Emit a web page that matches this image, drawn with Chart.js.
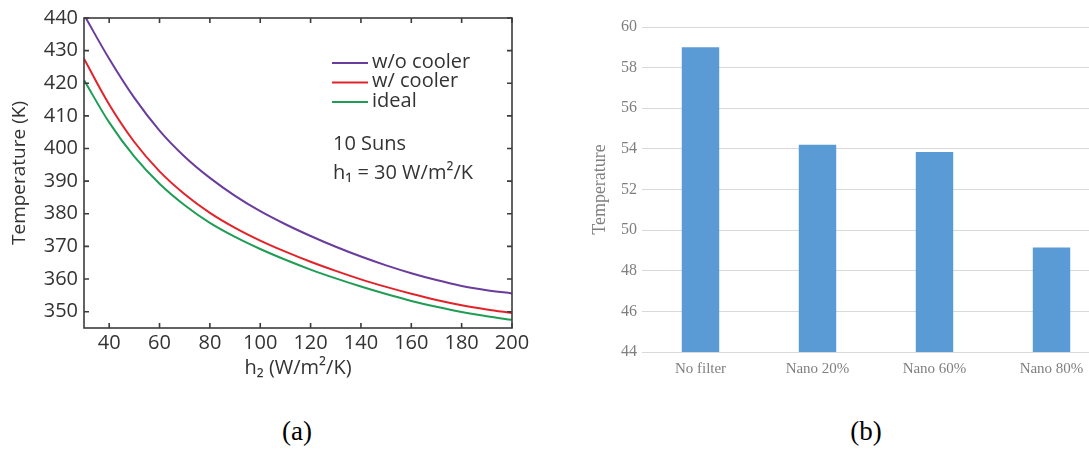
<!DOCTYPE html>
<html lang="en">

<head>
  <meta charset="UTF-8">
  <title>Temperature comparison</title>
  <script src="https://cdn.jsdelivr.net/npm/chart.js"></script>
  <style>
    html, body { margin: 0; padding: 0; background: #fff; }
    .page { position: relative; width: 1089px; height: 452px; overflow: hidden; }
    #chartA { position: absolute; left: 0; top: 0; }
    #chartB { position: absolute; left: 560px; top: 0; }
    .caption {
      position: absolute; top: 416px; width: 80px; margin-left: -40px;
      text-align: center; font-family: "Liberation Serif", serif; font-size: 27px; color: #000;
    }
  </style>
</head>

<body>
  <div class="page">
    <canvas id="chartA" width="560" height="395"></canvas>
    <canvas id="chartB" width="560" height="395"></canvas>
    <div class="caption" style="left: 297px;">(a)</div>
    <div class="caption" style="left: 866px;">(b)</div>
  </div>

  <script>
    // (a) device temperature vs. h2
    const h2Values = [30, 40, 50, 60, 70, 80, 90, 100, 110, 120, 130, 140, 150, 160, 170, 180, 190, 200];
    const tempNoCooler = [441, 427.5, 415.5, 405.5, 397.5, 391, 385.5, 380.8, 376.8, 373.2, 369.9, 366.9, 364.2, 361.8, 359.7, 357.9, 356.6, 355.6];
    const tempCooler = [427.5, 413.5, 402, 393, 386, 380.3, 375.7, 371.8, 368.4, 365.3, 362.5, 359.9, 357.6, 355.5, 353.6, 352, 350.7, 349.6];
    const tempIdeal = [421, 408, 397.5, 389.2, 382.6, 377.2, 372.9, 369.2, 365.9, 362.9, 360.2, 357.7, 355.4, 353.3, 351.5, 349.9, 348.6, 347.5];
    const seriesNames = ['w/o cooler', 'w/ cooler', 'ideal'];
    const seriesColors = ['#6a3c9c', '#e2232a', '#1f9d55'];
    const xTicksA = { min: 30, max: 200, step: 20 };
    const yTicksA = { min: 345, max: 440, step: 10 };
    const notes = ['10 Suns', 'h\u2081 = 30 W/m\u00b2/K'];

    // (b) temperature per filter
    const filterNames = ['No filter', 'Nano 20%', 'Nano 60%', 'Nano 80%'];
    const filterTemps = [59.0, 54.2, 53.85, 49.15];
    const yTicksB = { min: 44, max: 60, step: 2 };

    const sansFont = '"Open Sans", sans-serif';
    const serifFont = '"Liberation Serif", "Times New Roman", serif';

    const toPoints = ys => ys.map((y, i) => ({ x: h2Values[i], y: y }));

    // box frame with inward ticks, inline legend and notes
    const frameAndLegend = {
      id: 'frameAndLegend',
      afterDatasetsDraw(chart) {
        const { ctx, chartArea: a, scales: { x, y } } = chart;
        ctx.save();
        ctx.strokeStyle = '#3c3c3c';
        ctx.lineWidth = 1.6;
        ctx.strokeRect(a.left, a.top, a.right - a.left, a.bottom - a.top);
        ctx.beginPath();
        x.ticks.forEach(t => {
          const px = x.getPixelForValue(t.value);
          ctx.moveTo(px, a.bottom); ctx.lineTo(px, a.bottom - 5);
          ctx.moveTo(px, a.top); ctx.lineTo(px, a.top + 5);
        });
        y.ticks.forEach(t => {
          const py = y.getPixelForValue(t.value);
          ctx.moveTo(a.left, py); ctx.lineTo(a.left + 5, py);
          ctx.moveTo(a.right, py); ctx.lineTo(a.right - 5, py);
        });
        ctx.stroke();

        ctx.font = '20px ' + sansFont;
        ctx.fillStyle = '#333';
        ctx.textBaseline = 'middle';
        ctx.textAlign = 'left';
        const lx = a.left + 248;
        chart.data.datasets.forEach((ds, i) => {
          const ly = a.top + 45 + i * 19.5;
          ctx.strokeStyle = ds.borderColor;
          ctx.lineWidth = 2;
          ctx.beginPath();
          ctx.moveTo(lx, ly); ctx.lineTo(lx + 36, ly);
          ctx.stroke();
          ctx.fillText(ds.label, lx + 40, ly - 1);
        });
        notes.forEach((txt, i) => {
          ctx.fillText(txt, lx + 1, a.top + 126 + i * 29);
        });
        ctx.restore();
      }
    };

    new Chart(document.getElementById('chartA').getContext('2d'), {
      type: 'line',
      data: {
        datasets: [tempNoCooler, tempCooler, tempIdeal].map((ys, i) => ({
          label: seriesNames[i],
          data: toPoints(ys),
          borderColor: seriesColors[i],
          backgroundColor: seriesColors[i],
          borderWidth: 2,
          pointRadius: 0,
          tension: 0.35,
          fill: false
        }))
      },
      options: {
        responsive: false,
        animation: false,
        layout: { padding: { left: 0, top: 17, right: 48, bottom: 7 } },
        plugins: { legend: { display: false }, tooltip: { enabled: false } },
        scales: {
          x: {
            type: 'linear',
            min: xTicksA.min,
            max: xTicksA.max,
            afterFit: s => { s.height = 60; },
            grid: { display: false, drawTicks: false },
            border: { display: false },
            ticks: {
              stepSize: xTicksA.step, includeBounds: false, padding: 3,
              color: '#333', font: { family: sansFont, size: 20 }, maxRotation: 0
            },
            title: {
              display: true, text: 'h\u2082 (W/m\u00b2/K)', color: '#333',
              font: { family: sansFont, size: 20 }, padding: { top: 0, bottom: 8 }
            }
          },
          y: {
            min: yTicksA.min,
            max: yTicksA.max,
            afterFit: s => { s.width = 84; },
            grid: { display: false, drawTicks: false },
            border: { display: false },
            ticks: {
              stepSize: yTicksA.step, includeBounds: false, padding: 6,
              color: '#333', font: { family: sansFont, size: 20 }
            },
            title: {
              display: true, text: 'Temperature (K)', color: '#333',
              font: { family: sansFont, size: 19 }, padding: { top: 8, bottom: 0 }
            }
          }
        }
      },
      plugins: [frameAndLegend]
    });

    new Chart(document.getElementById('chartB').getContext('2d'), {
      type: 'bar',
      data: {
        labels: filterNames,
        datasets: [{
          label: 'Temperature',
          data: filterTemps,
          backgroundColor: '#5b9bd5',
          borderWidth: 0,
          barPercentage: 0.32,
          categoryPercentage: 1
        }]
      },
      options: {
        responsive: false,
        animation: false,
        layout: { padding: { left: 0, top: 27, right: 10, bottom: 0 } },
        plugins: { legend: { display: false }, tooltip: { enabled: false } },
        scales: {
          x: {
            afterFit: s => { s.height = 43; },
            grid: { display: false, drawTicks: false },
            border: { display: false },
            ticks: { padding: 8, color: '#7f7f7f', font: { family: serifFont, size: 15 }, maxRotation: 0 }
          },
          y: {
            min: yTicksB.min,
            max: yTicksB.max,
            afterFit: s => { s.width = 82; },
            grid: { color: '#d9d9d9', lineWidth: 1, drawTicks: false },
            border: { display: false },
            ticks: { stepSize: yTicksB.step, padding: 5, color: '#7f7f7f', font: { family: serifFont, size: 16 } },
            title: {
              display: true, text: 'Temperature', color: '#7f7f7f',
              font: { family: serifFont, size: 18 }, padding: { top: 29, bottom: 0 }
            }
          }
        }
      }
    });
  </script>
</body>

</html>
